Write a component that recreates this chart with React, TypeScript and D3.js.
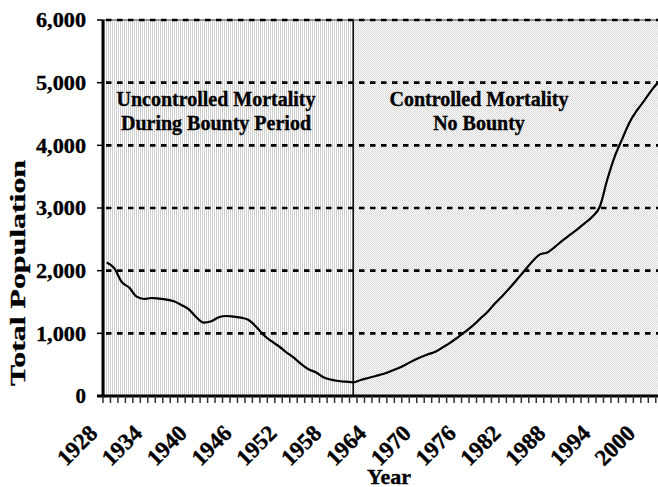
import React from "react";
import * as d3 from "d3";

const years = [
  1929, 1930, 1931, 1932, 1933, 1934, 1935, 1936, 1937, 1938, 1939, 1940, 1941, 1942, 1943,
  1944, 1945, 1946, 1947, 1948, 1949, 1950, 1951, 1952, 1953, 1954, 1955, 1956, 1957, 1958,
  1959, 1960, 1961, 1962, 1963, 1964, 1965, 1966, 1967, 1968, 1969, 1970, 1971, 1972, 1973,
  1974, 1975, 1976, 1977, 1978, 1979, 1980, 1981, 1982, 1983, 1984, 1985, 1986, 1987, 1988,
  1989, 1990, 1991, 1992, 1993, 1994, 1995, 1996, 1997, 1998, 1999, 2000, 2001, 2002, 2003,
];
const population = [
  2130, 2040, 1820, 1730, 1585, 1548, 1564, 1553, 1537, 1511, 1452, 1383, 1256, 1170, 1192,
  1256, 1277, 1266, 1250, 1213, 1106, 973, 878, 798, 702, 617, 511, 426, 378, 298,
  262, 239, 228, 218, 255, 287, 319, 351, 394, 442, 500, 564, 617, 665, 707,
  777, 851, 937, 1026, 1122, 1234, 1345, 1479, 1600, 1730, 1870, 2010, 2150, 2260, 2290,
  2380, 2480, 2570, 2660, 2760, 2860, 3020, 3450, 3820, 4100, 4370, 4560, 4720, 4890, 5030,
];
const xLabels = [1928, 1934, 1940, 1946, 1952, 1958, 1964, 1970, 1976, 1982, 1988, 1994, 2000];
const yTicks = [0, 1000, 2000, 3000, 4000, 5000, 6000];
const yTickText = ["0", "1,000", "2,000", "3,000", "4,000", "5,000", "6,000"];
const boundaryYear = 1962;
const leftNote = ["Uncontrolled Mortality", "During Bounty Period"];
const rightNote = ["Controlled Mortality", "No Bounty"];

const W = 658;
const H = 487;
const left = 103;
const right = 658;
const top = 20;
const bottom = 396;
const pxPerYear = 7.47;
const FONT = "'Liberation Serif', 'Times New Roman', serif";

export default function App() {
  const x = d3
    .scaleLinear()
    .domain([1928.5, 1928.5 + (right - left) / pxPerYear])
    .range([left, right]);
  const y = d3.scaleLinear().domain([0, 6000]).range([bottom, top]);
  const data = years.map((yr, i) => ({ yr, v: population[i] }));
  const line = d3
    .line<{ yr: number; v: number }>()
    .x((d) => x(d.yr))
    .y((d) => y(d.v))
    .curve(d3.curveMonotoneX);
  const xb = x(boundaryYear);
  const textStroke = { stroke: "#000", strokeWidth: 0.35 };

  return (
    <svg
      width={W}
      height={H}
      style={{ position: "absolute", left: 0, top: 0, display: "block" }}
      fontFamily={FONT}
      fontWeight="bold"
    >
      <defs>
        <pattern id="vstripe" width="2" height="2" patternUnits="userSpaceOnUse">
          <rect width="2" height="2" fill="#ffffff" />
          <rect width="1" height="2" fill="#cfcfcf" />
        </pattern>
        <pattern id="dots" width="2" height="2" patternUnits="userSpaceOnUse">
          <rect width="2" height="2" fill="#ffffff" />
          <rect width="1" height="1" fill="#d6d6d6" />
          <rect x="1" y="1" width="1" height="1" fill="#d6d6d6" />
        </pattern>
        <clipPath id="plotclip">
          <rect x={left} y={top - 2} width={right - left} height={bottom - top + 4} />
        </clipPath>
      </defs>
      <rect x={0} y={0} width={W} height={H} fill="#fff" />
      <rect x={left} y={top} width={xb - left} height={bottom - top} fill="url(#vstripe)" />
      <rect x={xb} y={top} width={right - xb} height={bottom - top} fill="url(#dots)" />

      {/* top border */}
      <line x1={left} x2={right} y1={y(6000)} y2={y(6000)} stroke="#777" strokeWidth={1.5} />
      {/* gridlines */}
      {yTicks
        .filter((t) => t > 0)
        .map((t) => (
          <line
            key={"g" + t}
            x1={left + 3}
            x2={right}
            y1={y(t)}
            y2={y(t)}
            stroke="#000"
            strokeWidth={2.6}
            strokeDasharray="5.5,5.5"
          />
        ))}

      {/* boundary line */}
      <line x1={xb} x2={xb} y1={top} y2={bottom} stroke="#111" strokeWidth={1.6} />

      {/* data line */}
      <g clipPath="url(#plotclip)">
        <path d={line(data) || ""} fill="none" stroke="#000" strokeWidth={2.2} strokeLinejoin="round" />
      </g>

      {/* axes */}
      <line x1={left} x2={left} y1={top} y2={bottom + 1.5} stroke="#000" strokeWidth={3} />
      <line x1={left - 6} x2={right} y1={bottom} y2={bottom} stroke="#000" strokeWidth={2.8} />
      {yTicks.map((t) => (
        <line key={"yt" + t} x1={left - 6} x2={left} y1={y(t)} y2={y(t)} stroke="#000" strokeWidth={1.5} />
      ))}
      {years.map((yr) => (
        <line
          key={"xt" + yr}
          x1={x(yr - 0.5)}
          x2={x(yr - 0.5)}
          y1={bottom}
          y2={bottom + 7}
          stroke="#333"
          strokeWidth={1.5}
        />
      ))}

      {/* y tick labels */}
      {yTicks.map((t, i) => (
        <text
          key={"yl" + t}
          x={86}
          y={y(t)}
          dy="0.35em"
          textAnchor="end"
          fontSize={21}
          fill="#000"
          {...textStroke}
          {...(t > 0 ? { textLength: 50, lengthAdjust: "spacingAndGlyphs" } : {})}
        >
          {yTickText[i]}
        </text>
      ))}

      {/* x tick labels */}
      {xLabels.map((yr) => (
        <text
          key={"xl" + yr}
          transform={`translate(${x(yr) - 0.5},${434.5}) rotate(-45)`}
          textAnchor="end"
          fontSize={23}
          fill="#000"
          {...textStroke}
        >
          {yr}
        </text>
      ))}

      {/* axis titles */}
      <text x={389} y={484} textAnchor="middle" fontSize={22} fill="#000" {...textStroke}>
        Year
      </text>
      <text
        transform={`translate(${25},${273}) rotate(-90)`}
        textAnchor="middle"
        fontSize={22}
        fill="#000"
        textLength={226}
        lengthAdjust="spacingAndGlyphs"
        {...textStroke}
      >
        Total Population
      </text>

      {/* annotations */}
      {leftNote.map((s, i) => (
        <text key={"ln" + i} x={216} y={106 + i * 23.5} textAnchor="middle" fontSize={20} fill="#000" {...textStroke}>
          {s}
        </text>
      ))}
      {rightNote.map((s, i) => (
        <text key={"rn" + i} x={479} y={106 + i * 23.5} textAnchor="middle" fontSize={20} fill="#000" {...textStroke}>
          {s}
        </text>
      ))}
    </svg>
  );
}
